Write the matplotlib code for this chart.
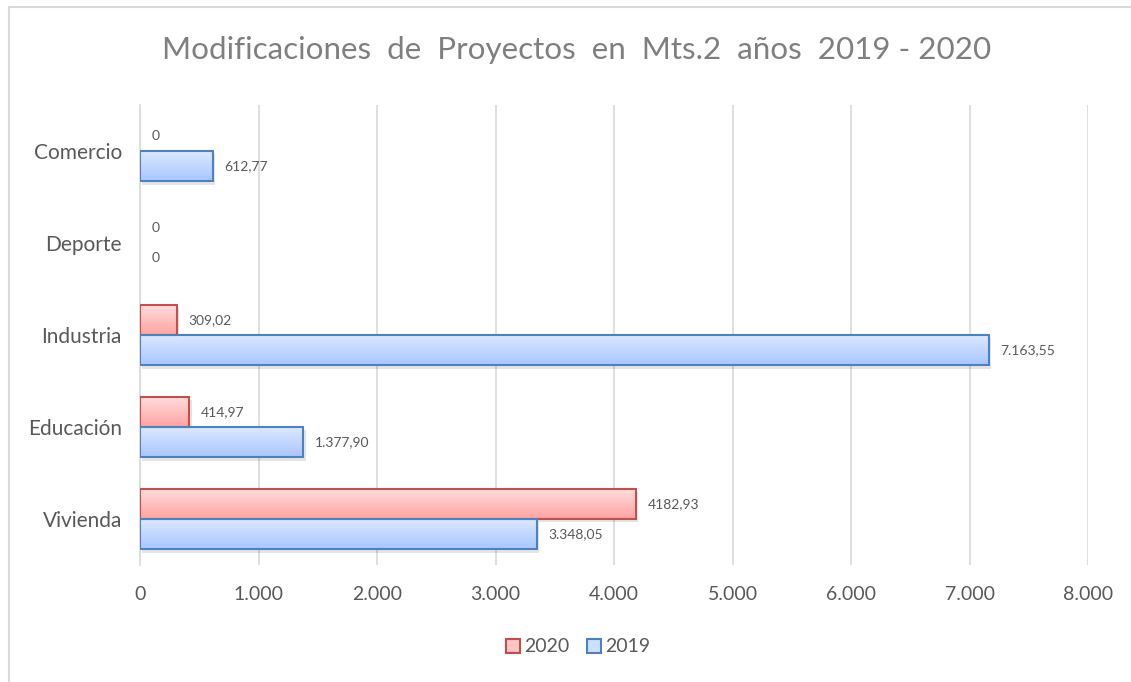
import numpy as np
import matplotlib.pyplot as plt
from matplotlib.lines import Line2D
from matplotlib.patches import Rectangle

categorias = ['Vivienda', 'Educación', 'Industria', 'Deporte', 'Comercio']
v2020 = [4182.93, 414.97, 309.02, 0, 0]
v2019 = [3348.05, 1377.90, 7163.55, 0, 612.77]
etq2020 = ['4182,93', '414,97', '309,02', '0', '0']
etq2019 = ['3.348,05', '1.377,90', '7.163,55', '0', '612,77']
xticks = [0, 1000, 2000, 3000, 4000, 5000, 6000, 7000, 8000]
xlabels = ['0', '1.000', '2.000', '3.000', '4.000', '5.000', '6.000', '7.000', '8.000']

plt.rcParams['font.family'] = ['Lato', 'DejaVu Sans']

fig = plt.figure(figsize=(11.31, 6.82), dpi=100)
ax = fig.add_axes([140/1131, 117/682, 948/1131, 460/682])

# marco exterior
fig.add_artist(Line2D([9/1131, 1], [1 - 7/682, 1 - 7/682], color='#d9d9d9', lw=1.5))
fig.add_artist(Line2D([9/1131, 9/1131], [0, 1 - 7/682], color='#d9d9d9', lw=1.5))

y = np.arange(len(categorias))
h = 0.33

def grad_bars(vals, offs, top, bottom, edge):
    lws = [1.5 if v > 0 else 0 for v in vals]
    bars = ax.barh(y + offs, vals, height=h, color='none', edgecolor=edge, lw=lws, zorder=3)
    g = np.linspace(0, 1, 64).reshape(-1, 1)
    cmap = plt.matplotlib.colors.LinearSegmentedColormap.from_list('g', [top, bottom])
    for b in bars:
        x0, y0, w, hh = b.get_x(), b.get_y(), b.get_width(), b.get_height()
        if w <= 0:
            continue
        # sombra
        ax.add_patch(Rectangle((x0 + 20, y0 - 0.035), w, hh, color='#000000', alpha=0.10, lw=0, zorder=2))
        im = ax.imshow(g, cmap=cmap, aspect='auto', extent=[x0, x0 + w, y0, y0 + hh],
                       zorder=2.5, interpolation='bicubic')
        im.set_clip_path(b)
    return bars

grad_bars(v2020, h/2, '#ffdede', '#ffa3a3', '#c0504d')
grad_bars(v2019, -h/2, '#dde9ff', '#a9c6ff', '#4f81bd')

for i in range(len(categorias)):
    ax.text(v2020[i] + 100, y[i] + h/2, etq2020[i], fontsize=10, color='#595959', va='center')
    ax.text(v2019[i] + 100, y[i] - h/2, etq2019[i], fontsize=10, color='#595959', va='center')

ax.set_xlim(0, 8000)
ax.set_ylim(-0.5, 4.5)
ax.set_xticks(xticks)
ax.set_xticklabels(xlabels)
ax.set_yticks(y)
ax.set_yticklabels(categorias)
ax.tick_params(length=0, labelsize=14, colors='#595959')
ax.tick_params(axis='y', labelsize=15, pad=13)
ax.tick_params(axis='x', pad=15)
ax.grid(axis='x', color='#d9d9d9', lw=1.2, zorder=0)
ax.set_axisbelow(True)
for s in ['top', 'right', 'bottom']:
    ax.spines[s].set_visible(False)
ax.spines['left'].set_color('#d9d9d9')
ax.spines['left'].set_linewidth(1.2)

fig.text(577/1131, 1 - 50/682, 'Modificaciones  de  Proyectos  en  Mts.2  años  2019 - 2020',
         ha='center', va='center', fontsize=22.6, color='#7f7f7f')

h1 = Rectangle((0, 0), 1, 1, facecolor='#ffc4c4', edgecolor='#c0504d', lw=1.5)
h2 = Rectangle((0, 0), 1, 1, facecolor='#cddfff', edgecolor='#4f81bd', lw=1.5)
fig.legend([h1, h2], ['2020', '2019'], loc='center', bbox_to_anchor=(578/1131, 1 - 647/682),
           ncol=2, frameon=False, fontsize=14, handlelength=0.75, handleheight=0.75,
           handletextpad=0.2, columnspacing=0.9, labelcolor='#595959')

fig.savefig('out.png', dpi=100)
